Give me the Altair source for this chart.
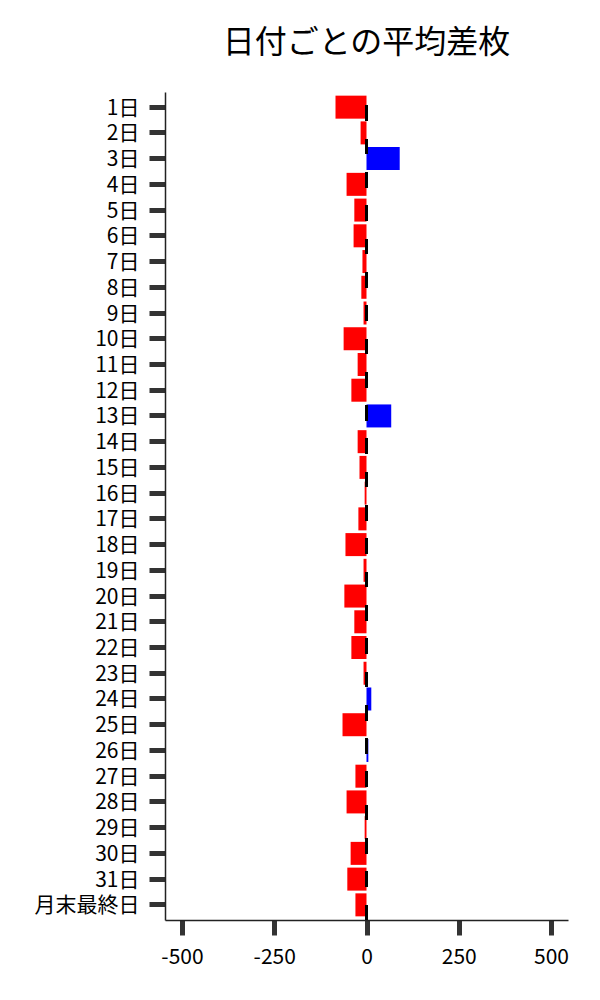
import altair as alt
import pandas as pd

days = ["1日", "2日", "3日", "4日", "5日", "6日", "7日", "8日", "9日", "10日",
        "11日", "12日", "13日", "14日", "15日", "16日", "17日", "18日", "19日", "20日",
        "21日", "22日", "23日", "24日", "25日", "26日", "27日", "28日", "29日", "30日",
        "31日", "月末最終日"]
values = [-84, -16, 90, -54, -33, -35, -11, -14, -8, -62,
          -24, -41, 67, -24, -19, -5, -22, -57, -8, -60,
          -33, -41, -8, 13, -65, 5, -30, -54, -5, -43,
          -52, -30]
x_ticks = [-500, -250, 0, 250, 500]

df = pd.DataFrame({"day": days, "value": values})
FONT = "Noto Sans CJK JP"

bars = alt.Chart(df).mark_bar().encode(
    y=alt.Y("day:N", sort=days,
            scale=alt.Scale(paddingInner=0.106, paddingOuter=0.142),
            axis=alt.Axis(title=None, labelFontSize=21, labelFont=FONT, labelColor="black",
                          tickSize=16, tickWidth=5, tickColor="#333333", labelPadding=10,
                          labelOffset=1.5,
                          domainColor="#222222", domainWidth=1.5)),
    x=alt.X("value:Q", scale=alt.Scale(domain=[-546, 546], nice=False, zero=False),
            axis=alt.Axis(title=None, values=x_ticks, labelFontSize=21, labelFont=FONT,
                          labelColor="black", tickSize=15, tickWidth=5, tickColor="#333333",
                          labelPadding=11, grid=False, domainColor="#222222", domainWidth=1.5,
                          labelExpr="datum.value < 0 ? '-' + abs(datum.value) : '' + datum.value")),
    color=alt.condition(alt.datum.value > 0, alt.value("#0000ff"), alt.value("#ff0000")),
)

zero_line = alt.Chart(df).mark_rule(color="black", strokeWidth=2, strokeDash=[15, 18.3]).encode(
    x=alt.datum(0),
    y=alt.value(828),
    y2=alt.value(12),
)

chart = alt.layer(bars, zero_line).properties(
    width=403,
    height=828,
    title=alt.TitleParams("日付ごとの平均差枚", fontSize=32, font=FONT, fontWeight="normal",
                          anchor="middle", offset=32, color="black"),
    autosize=alt.AutoSizeParams(type="none"),
    padding={"left": 157, "top": 84, "right": 24, "bottom": 64},
).configure_view(stroke=None).configure_axis(grid=False)

chart.save("out.html", embed_options={"renderer": "svg", "actions": False})
